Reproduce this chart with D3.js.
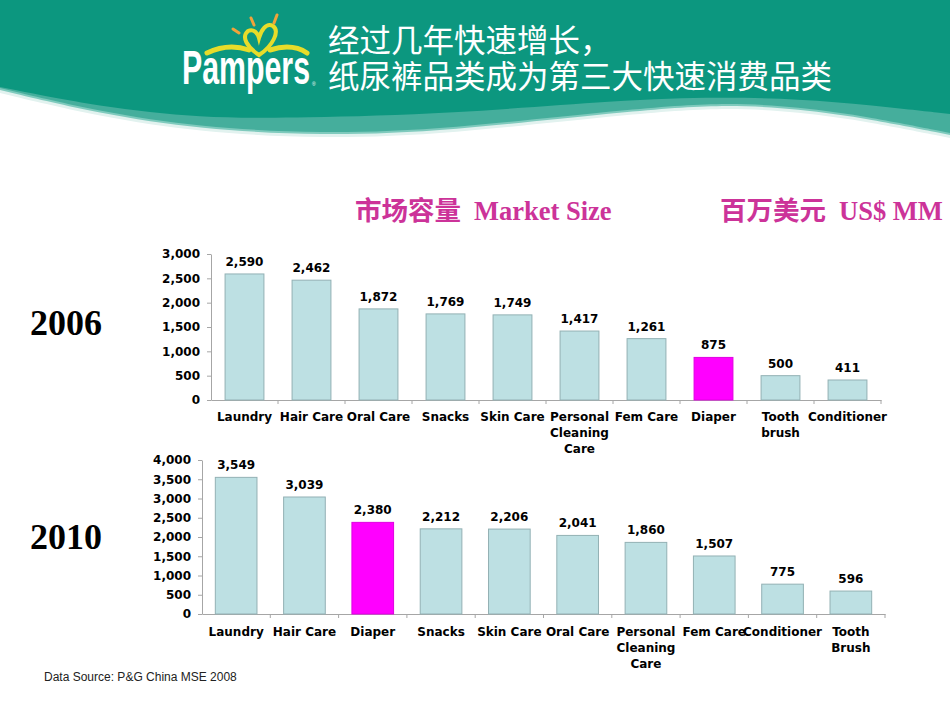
<!DOCTYPE html>
<html>
<head>
<meta charset="utf-8">
<script src="https://cdn.jsdelivr.net/npm/d3@7/dist/d3.min.js"></script>
<style>
  html, body { margin: 0; padding: 0; background: #fff; }
  svg { display: block; }
</style>
</head>
<body>
<svg id="chart" width="950" height="713"></svg>
<script>
// ---------- data ----------
const titleLines = ["经过几年快速增长，", "纸尿裤品类成为第三大快速消费品类"];
const cats2006 = ["Laundry", "Hair Care", "Oral Care", "Snacks", "Skin Care", "Personal\nCleaning\nCare", "Fem Care", "Diaper", "Tooth\nbrush", "Conditioner"];
const vals2006 = [2590, 2462, 1872, 1769, 1749, 1417, 1261, 875, 500, 411];
const ticks2006 = [0, 500, 1000, 1500, 2000, 2500, 3000];
const cats2010 = ["Laundry", "Hair Care", "Diaper", "Snacks", "Skin Care", "Oral Care", "Personal\nCleaning\nCare", "Fem Care", "Conditioner", "Tooth\nBrush"];
const vals2010 = [3549, 3039, 2380, 2212, 2206, 2041, 1860, 1507, 775, 596];
const ticks2010 = [0, 500, 1000, 1500, 2000, 2500, 3000, 3500, 4000];
const highlightCat = "Diaper";
const sourceText = "Data Source: P&G China MSE 2008";

const svg = d3.select("#chart");
const fmt = d3.format(",");
const sansBold = "'DejaVu Sans', Verdana, sans-serif";

// ---------- header ----------
const line = d3.line().curve(d3.curveBasis);
const bandEdge = [[0, 90], [100, 114], [200, 129], [320, 136], [450, 131], [620, 112], [720, 104], [800, 109], [870, 119], [950, 135]];
const darkEdge = [[0, 87], [100, 107], [200, 118], [300, 118], [450, 114], [620, 100], [720, 97], [800, 99], [870, 105], [950, 114]];
function areaFrom(edge) {
  return "M0,0L950,0" + line(edge.slice().reverse()).replace(/^M/, "L") + "Z";
}
svg.append("path").attr("d", areaFrom(bandEdge.map(p => [p[0], p[1] + 3]))).attr("fill", "#e2f2ef");
svg.append("path").attr("d", areaFrom(bandEdge)).attr("fill", "#7fcabd");
svg.append("path").attr("d", areaFrom(bandEdge.map(p => [p[0], p[1] - 2]))).attr("fill", "#45ae9c");
svg.append("path").attr("d", areaFrom(darkEdge)).attr("fill", "#0c977f");

// logo
const logo = svg.append("g");
logo.append("path").attr("d", "M207,53 Q228,43 249,50").attr("fill", "none").attr("stroke", "#e7dc2a").attr("stroke-width", 5).attr("stroke-linecap", "round");
logo.append("path").attr("d", "M270,50 Q292,43 307,53").attr("fill", "none").attr("stroke", "#e7dc2a").attr("stroke-width", 5).attr("stroke-linecap", "round");
logo.append("path").attr("d", "M259,55 C247,47 241,37 248,31 C254,28 258,34 259,38 C261,31 266,22 273,26 C280,31 273,46 259,55 Z")
  .attr("fill", "none").attr("stroke", "#e7dc2a").attr("stroke-width", 4);
logo.append("path").attr("d", "M233,29 L239,33 M251,18 L254,25 M277,15 L274,23").attr("stroke", "#f0a33a").attr("stroke-width", 3).attr("stroke-linecap", "round");
logo.append("text").attr("x", 182).attr("y", 84).attr("fill", "#fff")
  .attr("font-family", "'Liberation Sans Narrow', 'Liberation Sans', sans-serif").attr("font-weight", 700)
  .attr("font-size", 48).attr("textLength", 128).attr("lengthAdjust", "spacingAndGlyphs").text("Pampers");
logo.append("text").attr("x", 312).attr("y", 86).attr("fill", "#fff").attr("font-size", 5).attr("font-family", "sans-serif").text("®");

// title
svg.selectAll("text.title").data(titleLines).join("text").attr("class", "title")
  .attr("x", 328).attr("y", (d, i) => 52 + i * 36)
  .attr("fill", "#fff").attr("font-family", "'Noto Sans CJK SC', sans-serif").attr("font-size", 31.5)
  .text(d => d);

// subtitle
const magenta = "#cc3399";
function subtitle(x, cn, en) {
  const t = svg.append("text").attr("x", x).attr("y", 220).attr("fill", magenta);
  t.append("tspan").attr("font-family", "'Noto Sans CJK SC', sans-serif").attr("font-weight", 700).attr("font-size", 26.5).text(cn);
  t.append("tspan").attr("dx", 13).attr("font-family", "'Liberation Serif', serif").attr("font-weight", 700).attr("font-size", 26.5).text(en);
}
subtitle(355, "市场容量", "Market Size");
subtitle(720, "百万美元", "US$ MM");

// year labels
[["2006", 335], ["2010", 549]].forEach(([t, y]) => {
  svg.append("text").attr("x", 30).attr("y", y).attr("font-family", "'Liberation Serif', serif")
    .attr("font-weight", 700).attr("font-size", 36).attr("fill", "#000").text(t);
});

// ---------- charts ----------
function barChart(cfg) {
  const { cats, vals, ticks, x0, x1, yBase, yTop, maxV, pad, labelY } = cfg;
  const g = svg.append("g");
  const x = d3.scaleBand().domain(cats).range([x0, x1]).paddingInner(pad).paddingOuter(pad / 2);
  const y = d3.scaleLinear().domain([0, maxV]).range([yBase, yTop]);

  // y axis
  const ya = g.append("g").attr("transform", `translate(${x0},0)`)
    .call(d3.axisLeft(y).tickValues(ticks).tickFormat(fmt).tickSize(4).tickSizeOuter(0).tickPadding(7));
  ya.select(".domain").attr("stroke", "#a6a6a6");
  ya.selectAll(".tick line").attr("stroke", "#a6a6a6");
  ya.selectAll("text").attr("font-family", sansBold).attr("font-weight", 700).attr("font-size", 12).attr("fill", "#000");

  // x axis line + boundary ticks
  const xa = g.append("g").attr("transform", `translate(0,${yBase})`)
    .call(d3.axisBottom(x).tickSize(0).tickSizeOuter(0).tickFormat(""));
  xa.select(".domain").attr("stroke", "#a6a6a6");
  const bounds = d3.range(1, cats.length + 1).map(i => x0 + i * x.step());
  g.selectAll("line.bt").data(bounds).join("line").attr("class", "bt")
    .attr("x1", d => d).attr("x2", d => d).attr("y1", yBase).attr("y2", yBase + 4).attr("stroke", "#a6a6a6");

  // bars
  const data = cats.map((c, i) => ({ c, v: vals[i] }));
  g.selectAll("rect.bar").data(data).join("rect").attr("class", "bar")
    .attr("x", d => x(d.c)).attr("width", x.bandwidth())
    .attr("y", d => y(d.v)).attr("height", d => yBase - y(d.v))
    .attr("fill", d => d.c === highlightCat ? "#ff00ff" : "#bde0e3")
    .attr("stroke", d => d.c === highlightCat ? "#e000e0" : "#93b1b4").attr("stroke-width", 1);

  // value labels
  g.selectAll("text.val").data(data).join("text").attr("class", "val")
    .attr("x", d => x(d.c) + x.bandwidth() / 2).attr("y", d => y(d.v) - 8)
    .attr("text-anchor", "middle").attr("font-family", sansBold).attr("font-weight", 700).attr("font-size", 12)
    .text(d => fmt(d.v));

  // category labels
  const cl = g.selectAll("text.cat").data(data).join("text").attr("class", "cat")
    .attr("text-anchor", "middle").attr("font-family", sansBold).attr("font-weight", 700).attr("font-size", 12);
  cl.each(function (d) {
    const cx = x(d.c) + x.bandwidth() / 2;
    d3.select(this).selectAll("tspan").data(d.c.split("\n")).join("tspan")
      .attr("x", cx).attr("y", (s, i) => labelY + i * 16).text(s => s);
  });
}

barChart({ cats: cats2006, vals: vals2006, ticks: ticks2006, x0: 211, x1: 881, yBase: 400, yTop: 254, maxV: 3000, pad: 0.42, labelY: 421 });
barChart({ cats: cats2010, vals: vals2010, ticks: ticks2010, x0: 202, x1: 885, yBase: 614, yTop: 460, maxV: 4000, pad: 0.39, labelY: 636 });

// source
svg.append("text").attr("x", 44).attr("y", 681).attr("font-family", "'Liberation Sans', Arial, sans-serif")
  .attr("font-size", 12).attr("fill", "#222").text(sourceText);
</script>
</body>
</html>
